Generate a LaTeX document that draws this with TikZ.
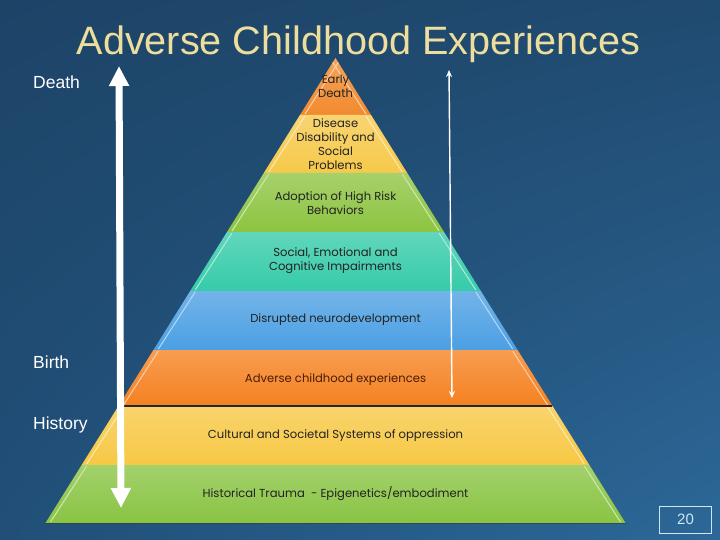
\documentclass[tikz,border=0pt]{standalone}
\usepackage{fontspec}
\setmainfont{Liberation Sans}
\newfontfamily\layerfont{Poppins}
\usetikzlibrary{arrows.meta,shadings}
\definecolor{bgul}{HTML}{1D4467}
\definecolor{bgur}{HTML}{204A70}
\definecolor{bgll}{HTML}{214F78}
\definecolor{bglr}{HTML}{2C6898}
\definecolor{titlecol}{HTML}{EEDE9E}
\definecolor{pagecol}{HTML}{CDE8F5}
\definecolor{layA}{HTML}{F28A2E}
\definecolor{layB}{HTML}{F6C94A}
\definecolor{layC}{HTML}{8DC441}
\definecolor{layD}{HTML}{35CBA9}
\definecolor{layE}{HTML}{4B9FE3}
\definecolor{layF}{HTML}{F58120}
\definecolor{layG}{HTML}{F7C844}
\definecolor{layH}{HTML}{89C443}
\definecolor{ink}{HTML}{222222}
\definecolor{inkbrown}{HTML}{4A1C06}
\tikzset{
	side/.style={white, font=\fontsize{17.5}{20}\selectfont, anchor=base west, inner sep=0pt},
	laytext/.style={ink, align=center, inner sep=0pt, font=\layerfont\fontsize{11.6}{13.8}\selectfont},
	sep/.style={black!80, opacity=0.6, line width=0.8pt}
}

\begin{document}
\begin{tikzpicture}[x=1pt,y=-1pt]
	\def \cx{335.5};
	\def \slope{0.6237};
	\def \apex{58};
	\shade[upper left=bgul, upper right=bgur, lower left=bgll, lower right=bglr] (0,0) rectangle (720,540);
	\useasboundingbox (0,0) rectangle (720,540);
	% pyramid layers
	\foreach \ytop/\ybot/\col in {58/115/layA, 115/173/layB, 173/232/layC, 232/291/layD, 291/350/layE, 350/406/layF, 406/465/layG, 465/523/layH} {
		\pgfmathsetmacro{\wt}{\slope*(\ytop-\apex)}
		\pgfmathsetmacro{\wb}{\slope*(\ybot-\apex)}
		\shade[top color=\col!78!white, bottom color=\col] (\cx-\wt,\ytop) -- (\cx+\wt,\ytop) -- (\cx+\wb,\ybot) -- (\cx-\wb,\ybot) -- cycle;
		\begin{scope}
			\clip (\cx-\wt,\ytop) -- (\cx+\wt,\ytop) -- (\cx+\wb,\ybot) -- (\cx-\wb,\ybot) -- cycle;
			\draw[\col!40!white, line width=1pt] (\cx-\wt+5,\ytop+1) -- (\cx-\wb+5,\ybot-1);
			\draw[\col!40!white, line width=1pt] (\cx+\wt-5,\ytop+1) -- (\cx+\wb-5,\ybot-1);
		\end{scope}
		\draw[sep] (\cx-\wb,\ybot) -- (\cx+\wb,\ybot);
	}
	\draw[black!85, line width=1.8pt] (\cx-216,406) -- (\cx+216,406);
	% layer texts
	\node[laytext] (l1) at (\cx,86) {Early\\Death};
	\node[laytext] (l2) at (\cx,144) {Disease\\Disability and\\Social\\Problems};
	\node[laytext] (l3) at (\cx,203) {Adoption of High Risk\\Behaviors};
	\node[laytext] (l4) at (\cx,261) {Social, Emotional and\\Cognitive Impairments};
	\node[laytext] (l5) at (\cx,320) {Disrupted neurodevelopment};
	\node[laytext, inkbrown] (l6) at (\cx,380) {Adverse childhood experiences};
	\node[laytext] (l7) at (\cx,436) {Cultural and Societal Systems of oppression};
	\node[laytext] (l8) at (\cx,494) {Historical Trauma\ \ - Epigenetics/embodiment};
	% title and side labels
	\node[titlecol, anchor=base, inner sep=0pt, font=\fontsize{39.6}{44}\selectfont] (title) at (358.5,55) {Adverse Childhood Experiences};
	\node[side] (death) at (33,89) {Death};
	\node[side] (birth) at (33,368) {Birth};
	\node[side] (history) at (33,429) {History};
	% arrows
	\coordinate (lifeTop) at (119,66);
	\coordinate (lifeBot) at (121,508);
	\coordinate (spanTop) at (449,70);
	\coordinate (spanBot) at (452,398);
	\draw[white, line width=7pt, {Triangle[width=19pt,length=20pt]}-{Triangle[width=19pt,length=20pt]}] (lifeTop) -- (lifeBot);
	\draw[white, line width=1.4pt, {Stealth[width=6pt,length=7pt]}-{Stealth[width=6pt,length=7pt]}] (spanTop) -- (spanBot);
	% page number
	\node[draw=pagecol, line width=0.8pt, pagecol, minimum width=52pt, minimum height=27pt, font=\fontsize{15}{18}\selectfont] (page) at (685.5,519.5) {20};
\end{tikzpicture}
\end{document}
